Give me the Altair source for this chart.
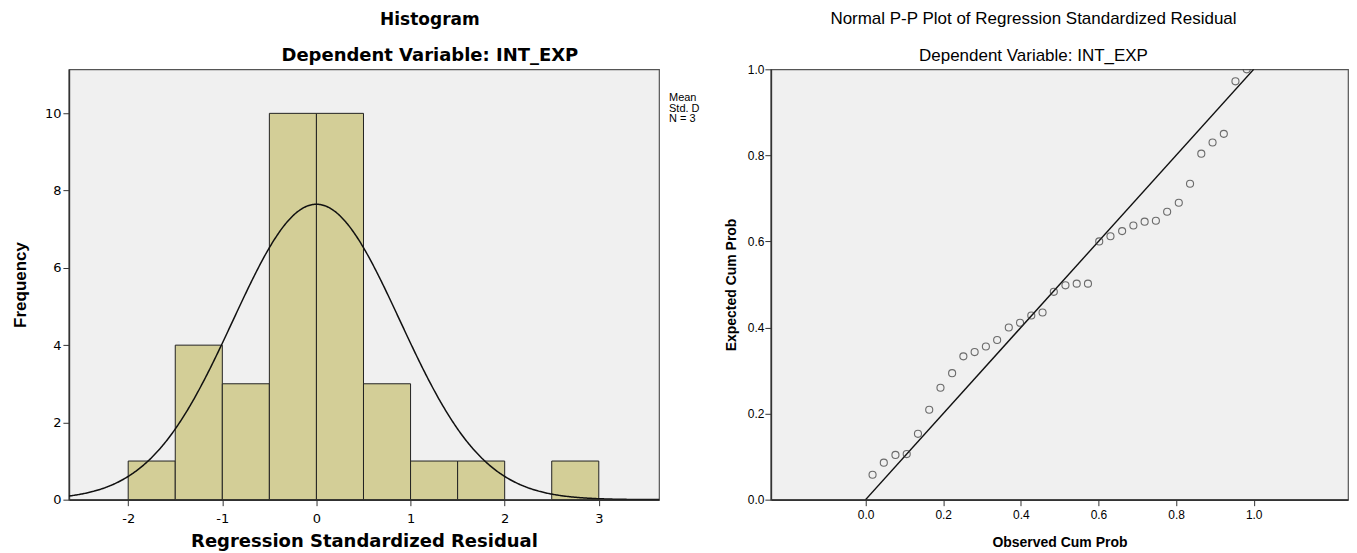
import altair as alt
import pandas as pd

# ---------------- data ----------------
bin_start = [-2.0, -1.5, -1.0, -0.5, 0.0, 0.5, 1.0, 1.5, 2.0, 2.5]
bin_end = [-1.5, -1.0, -0.5, 0.0, 0.5, 1.0, 1.5, 2.0, 2.5, 3.0]
freq = [1, 4, 3, 10, 10, 3, 1, 1, 0, 1]
resid_mean = 0.0
resid_sd = 0.887
n_obs = 34
bin_width = 0.5
x_ticks_left = [-2, -1, 0, 1, 2, 3]
y_ticks_left = [0, 2, 4, 6, 8, 10]
legend_lines = ["Mean", "Std. D", "N = 3"]

obs_cum = [0.018, 0.047, 0.077, 0.106, 0.135, 0.164, 0.193, 0.223, 0.252, 0.281,
           0.310, 0.339, 0.369, 0.398, 0.427, 0.456, 0.485, 0.515, 0.544, 0.573,
           0.602, 0.631, 0.661, 0.690, 0.719, 0.748, 0.777, 0.807, 0.836, 0.865,
           0.894, 0.923, 0.953, 0.982]
exp_cum = [0.058, 0.086, 0.104, 0.106, 0.153, 0.209, 0.260, 0.294, 0.333, 0.343,
           0.356, 0.371, 0.400, 0.411, 0.428, 0.435, 0.483, 0.498, 0.502, 0.502,
           0.600, 0.612, 0.624, 0.637, 0.646, 0.648, 0.669, 0.690, 0.734, 0.804,
           0.830, 0.850, 0.972, 1.000]
ref_line = [0.0, 1.0]
pp_ticks = [0.0, 0.2, 0.4, 0.6, 0.8, 1.0]

# ---------------- styles ----------------
AX = "#333333"
LF = "DejaVu Sans"
RF = "Liberation Sans"

hist_df = pd.DataFrame({"start": bin_start, "end": bin_end, "freq": freq})
hist_df = hist_df[hist_df["freq"] > 0]
xs = alt.Scale(domain=[-2.63, 3.64], nice=False, zero=False)
ys = alt.Scale(domain=[0, 11.14], nice=False)

x_ax_left = alt.Axis(values=x_ticks_left, labelExpr="'' + datum.value",
                     title="Regression Standardized Residual",
                     titleFont=LF, titleFontSize=18, titleFontWeight="bold", titleColor="#000",
                     titleY=42, titleBaseline="middle",
                     labelFont=LF, labelFontSize=13, labelColor="#000", labelPadding=7,
                     tickSize=6, tickColor=AX, domainColor=AX, domainWidth=1.6, grid=False)
y_ax_left = alt.Axis(values=y_ticks_left, format="d", title="Frequency",
                     titleFont=RF, titleFontSize=17, titleFontWeight="bold", titleColor="#000",
                     titleX=-48, titleBaseline="middle",
                     labelFont=LF, labelFontSize=13, labelColor="#000", labelPadding=2,
                     tickSize=6, tickColor=AX, domainColor=AX, domainWidth=1.6, grid=False)

bars = alt.Chart(hist_df).mark_rect(color="#d3ce97", stroke="#222222", strokeWidth=1).encode(
    x=alt.X("start:Q", scale=xs, axis=x_ax_left),
    x2="end:Q",
    y=alt.Y("freq:Q", scale=ys, axis=y_ax_left),
    y2=alt.datum(0),
)

curve = alt.Chart(alt.sequence(start=-2.63, stop=3.645, step=0.01, as_="z")).transform_calculate(
    dens=f"{n_obs * bin_width} * densityNormal(datum.z, {resid_mean}, {resid_sd})"
).mark_line(color="#111111", strokeWidth=1.5, clip=True).encode(
    x=alt.X("z:Q", scale=xs),
    y=alt.Y("dens:Q", scale=ys),
)

legend_layers = []
for i, line in enumerate(legend_lines):
    legend_layers.append(
        alt.Chart(pd.DataFrame({"t": [line]})).mark_text(
            align="left", baseline="middle", font=RF, fontSize=11, color="#000"
        ).encode(x=alt.value(601), y=alt.value(29 + i * 10.5), text="t:N")
    )

left = alt.layer(bars, curve, *legend_layers).properties(
    width=591, height=431,
    title=alt.TitleParams(text="Histogram", subtitle="Dependent Variable: INT_EXP",
                          anchor="middle", frame="group", dx=66, offset=3,
                          font=LF, fontSize=17, fontWeight="bold", color="#000",
                          subtitleFont=LF, subtitleFontSize=18, subtitleFontWeight="bold",
                          subtitleColor="#000", subtitlePadding=18),
)

pp_df = pd.DataFrame({"obs": obs_cum, "exp": exp_cum})
line_df = pd.DataFrame({"a": ref_line, "b": ref_line})
pxs = alt.Scale(domain=[-0.244, 1.243], nice=False, zero=False)
pys = alt.Scale(domain=[0, 1.0], nice=False)

x_ax_right = alt.Axis(values=pp_ticks, format=".1f", title="Observed Cum Prob",
                      titleFont=RF, titleFontSize=14, titleFontWeight="bold", titleColor="#000",
                      titleY=43, titleBaseline="middle",
                      labelFont=RF, labelFontSize=12, labelColor="#000", labelPadding=4,
                      tickSize=6, tickColor=AX, domainColor=AX, domainWidth=1.6, grid=False)
y_ax_right = alt.Axis(values=pp_ticks, format=".1f", title="Expected Cum Prob",
                      titleFont=RF, titleFontSize=14, titleFontWeight="bold", titleColor="#000",
                      titleX=-39, titleBaseline="middle",
                      labelFont=RF, labelFontSize=12, labelColor="#000", labelPadding=1,
                      tickSize=6, tickColor=AX, domainColor=AX, domainWidth=1.6, grid=False)

diag = alt.Chart(line_df).mark_line(color="#111111", strokeWidth=1.4, clip=True).encode(
    x=alt.X("a:Q", scale=pxs, axis=x_ax_right),
    y=alt.Y("b:Q", scale=pys, axis=y_ax_right),
)
pts = alt.Chart(pp_df).mark_point(shape="circle", filled=False, size=50, stroke="#333333",
                                  strokeWidth=1.1, clip=True).encode(
    x=alt.X("obs:Q", scale=pxs),
    y=alt.Y("exp:Q", scale=pys),
)

right = alt.layer(diag, pts).properties(
    width=578, height=431,
    title=alt.TitleParams(text="Normal P-P Plot of Regression Standardized Residual",
                          subtitle="Dependent Variable: INT_EXP",
                          anchor="middle", frame="group", dx=-26, offset=-2,
                          font=RF, fontSize=17, fontWeight="normal", color="#000",
                          subtitleFont=RF, subtitleFontSize=17, subtitleColor="#000",
                          subtitlePadding=20),
)

chart = alt.hconcat(left, right, spacing=112, bounds="flush").configure_view(
    fill="#f0f0f0", stroke="#555555", strokeWidth=1.2
).properties(
    padding={"left": 11, "right": 8, "top": 9, "bottom": 2},
    background="white",
)

chart.save("out.html", embed_options={"renderer": "svg", "actions": False})
